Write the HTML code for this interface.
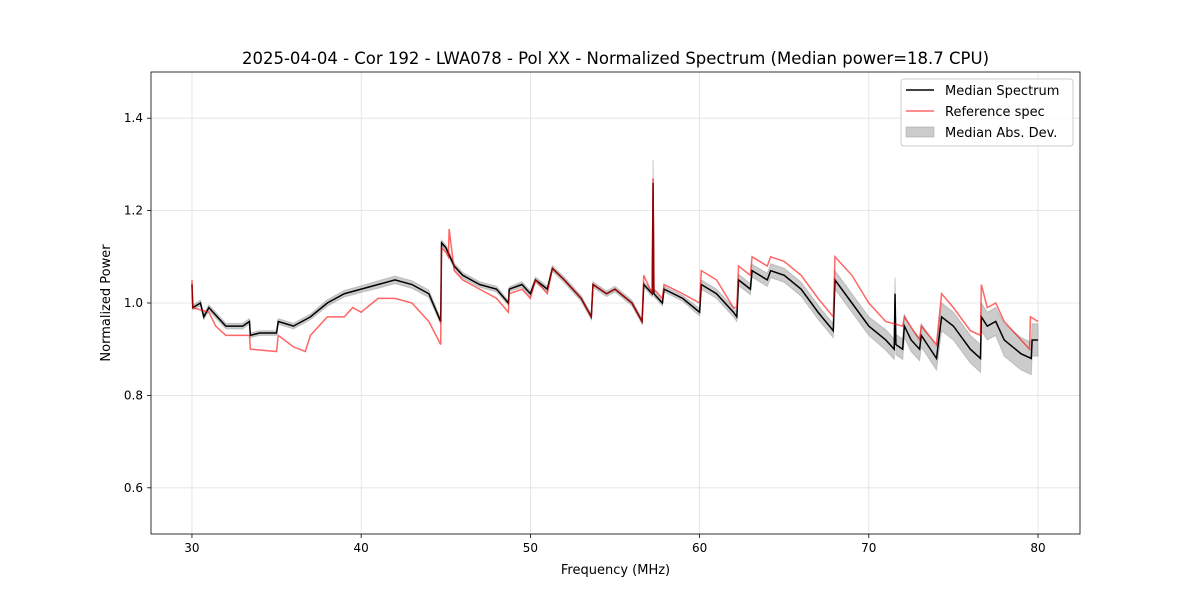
<!DOCTYPE html>
<html><head><meta charset="utf-8"><style>
body{margin:0;background:#fff;font-family:"Liberation Sans","DejaVu Sans",sans-serif}
svg text{font-family:"DejaVu Sans","Liberation Sans",sans-serif}
</style></head><body>
<svg id="c" width="1200" height="600" xmlns="http://www.w3.org/2000/svg"></svg>
<script>
const medFreq=[30,30.05,30.5,30.7,31,31.5,32,32.5,33,33.4,33.45,34,35,35.1,36,36.5,37,38,39,40,41,42,43,44,44.7,44.75,45,45.5,46,47,48,48.7,48.75,49.5,50,50.3,51,51.3,52,53,53.6,53.7,54.5,55,56,56.6,56.7,57.2,57.25,57.3,57.8,57.9,59,60,60.1,61,62,62.2,62.3,63,63.1,64,64.2,65,66,67,67.9,68,69,70,71,71.5,71.55,71.6,72,72.1,72.5,73,73.1,74,74.3,75,76,76.6,76.65,77,77.5,78,79,79.6,79.65,80];
const medVal=[1.04,0.99,1.0,0.97,0.99,0.97,0.95,0.95,0.95,0.96,0.93,0.935,0.935,0.96,0.95,0.96,0.97,1.0,1.02,1.03,1.04,1.05,1.04,1.02,0.96,1.13,1.12,1.08,1.06,1.04,1.03,1.0,1.03,1.04,1.02,1.05,1.03,1.075,1.05,1.01,0.97,1.04,1.02,1.03,1.0,0.96,1.04,1.02,1.26,1.02,1.0,1.03,1.01,0.98,1.04,1.02,0.98,0.97,1.05,1.03,1.07,1.05,1.07,1.06,1.03,0.98,0.94,1.05,1.0,0.95,0.92,0.9,1.02,0.91,0.9,0.95,0.92,0.9,0.93,0.88,0.97,0.95,0.9,0.88,0.97,0.95,0.96,0.92,0.89,0.88,0.92,0.92];
const madVal=[0.005,0.005,0.006,0.006,0.006,0.006,0.006,0.006,0.006,0.006,0.005,0.005,0.005,0.006,0.006,0.006,0.006,0.007,0.007,0.007,0.008,0.008,0.008,0.008,0.006,0.006,0.006,0.006,0.006,0.006,0.006,0.005,0.005,0.006,0.006,0.006,0.006,0.006,0.006,0.006,0.006,0.006,0.006,0.006,0.006,0.006,0.006,0.006,0.05,0.006,0.006,0.006,0.006,0.008,0.01,0.01,0.01,0.01,0.012,0.012,0.014,0.014,0.015,0.015,0.015,0.015,0.015,0.02,0.02,0.02,0.022,0.022,0.035,0.022,0.022,0.025,0.025,0.025,0.025,0.025,0.03,0.03,0.03,0.03,0.03,0.03,0.03,0.035,0.035,0.035,0.035,0.035];
const refFreq=[30,30.05,31,31.4,32,33.4,33.45,35,35.1,36,36.7,37,38,39,39.5,40,41,42,43,44,44.7,44.75,45,45.15,45.2,45.5,46,47,48,48.7,48.75,49.5,50,50.3,51,51.3,52,53,53.6,53.7,54.5,55,56,56.6,56.7,57.2,57.25,57.3,57.8,57.9,59,60,60.1,61,62,62.2,62.3,63,63.1,64,64.2,65,66,67,67.9,68,69,70,71,72,72.1,73,73.1,74,74.3,75,76,76.6,76.65,77,77.5,78,79,79.5,79.55,80];
const refVal=[1.05,0.99,0.98,0.95,0.93,0.93,0.9,0.895,0.93,0.905,0.895,0.93,0.97,0.97,0.99,0.98,1.01,1.01,1.0,0.96,0.91,1.12,1.11,1.1,1.16,1.07,1.05,1.03,1.01,0.98,1.02,1.03,1.01,1.05,1.02,1.075,1.05,1.01,0.97,1.04,1.02,1.03,1.0,0.96,1.06,1.02,1.27,1.03,1.01,1.04,1.02,1.0,1.07,1.05,0.99,0.99,1.08,1.06,1.1,1.08,1.1,1.09,1.06,1.01,0.97,1.1,1.06,1.0,0.96,0.95,0.97,0.92,0.95,0.91,1.02,0.99,0.94,0.93,1.04,0.99,1.0,0.96,0.92,0.9,0.97,0.96];
const xTicks=[30,40,50,60,70,80];
const yTicks=[0.6,0.8,1.0,1.2,1.4];

const L=151,R=1080,T=72,B=534,x0=27.58,x1=82.48,y0=0.5,y1=1.5;
const X=v=>L+(v-x0)/(x1-x0)*(R-L);
const Y=v=>B-(v-y0)/(y1-y0)*(B-T);
const svg=document.getElementById('c');const NS='http://www.w3.org/2000/svg';
function mk(t,a,p){const e=document.createElementNS(NS,t);for(const k in a)e.setAttribute(k,a[k]);(p||svg).appendChild(e);return e;}
let e;
for(const t of xTicks){
 e=mk('line',{x1:X(t),x2:X(t),y1:T,y2:B,stroke:'#e0e0e0','stroke-width':0.8});
 
 mk('line',{x1:X(t),x2:X(t),y1:B,y2:B+4,stroke:'#000','stroke-width':0.8});
 e=mk('text',{x:X(t),y:B+18,'text-anchor':'middle','font-size':12});e.textContent=t;
 
}
for(const t of yTicks){
 e=mk('line',{x1:L,x2:R,y1:Y(t),y2:Y(t),stroke:'#e0e0e0','stroke-width':0.8});
 
 mk('line',{x1:L-4,x2:L,y1:Y(t),y2:Y(t),stroke:'#000','stroke-width':0.8});
 e=mk('text',{x:L-8,y:Y(t)+4,'text-anchor':'end','font-size':12});e.textContent=t.toFixed(1);
 
}
let up=medFreq.map((f,i)=>X(f)+','+Y(medVal[i]+madVal[i]));
let dn=medFreq.map((f,i)=>X(f)+','+Y(medVal[i]-madVal[i])).reverse();
e=mk('polygon',{points:up.concat(dn).join(' '),fill:'#999','fill-opacity':0.5,stroke:'#999','stroke-opacity':0.5});

e=mk('polyline',{points:medFreq.map((f,i)=>X(f)+','+Y(medVal[i])).join(' '),fill:'none',stroke:'#000','stroke-width':1.5});

e=mk('polyline',{points:refFreq.map((f,i)=>X(f)+','+Y(refVal[i])).join(' '),fill:'none',stroke:'#f00','stroke-opacity':0.6,'stroke-width':1.5});

e=mk('rect',{x:L,y:T,width:R-L,height:B-T,fill:'none',stroke:'#000','stroke-width':0.8});

e=mk('text',{x:(L+R)/2+0,y:64,'text-anchor':'middle','font-size':16.5});
e.textContent='2025-04-04 - Cor 192 - LWA078 - Pol XX - Normalized Spectrum (Median power=18.7 CPU)';

e=mk('text',{x:(L+R)/2,y:574,'text-anchor':'middle','font-size':13});e.textContent='Frequency (MHz)';

e=mk('text',{x:110,y:303,'text-anchor':'middle','font-size':13,transform:'rotate(-90 110 303)'});e.textContent='Normalized Power';

const g=mk('g',{});
mk('rect',{x:901,y:79,width:172,height:67,rx:3,fill:'#fff','fill-opacity':0.8,stroke:'#ccc'},g);
mk('line',{x1:906,x2:934,y1:90,y2:90,stroke:'#000','stroke-width':1.5},g);
mk('line',{x1:906,x2:934,y1:111,y2:111,stroke:'#f00','stroke-opacity':0.6,'stroke-width':1.5},g);
mk('rect',{x:906,y:127,width:28,height:10,fill:'#999','fill-opacity':0.5,stroke:'#999','stroke-opacity':0.5},g);
const labs=['Median Spectrum','Reference spec','Median Abs. Dev.'];
labs.forEach((s,i)=>{e=mk('text',{x:945,y:95+i*21,'font-size':13},g);e.textContent=s;
 });
</script>
</body></html>
